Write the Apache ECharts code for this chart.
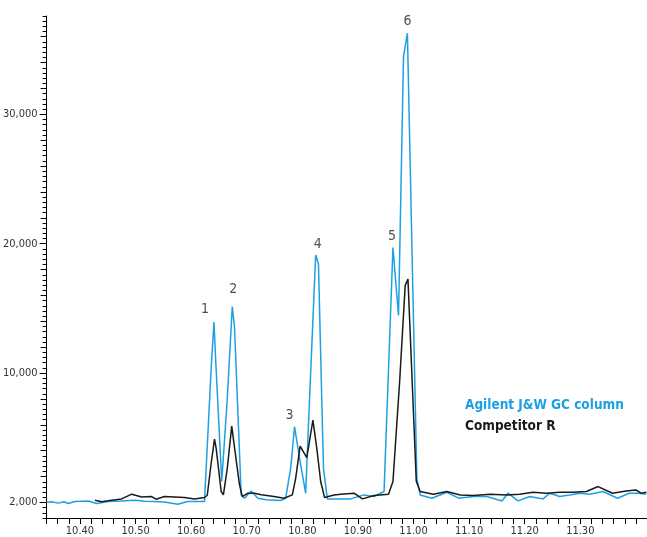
<!DOCTYPE html>
<html>
<head>
<meta charset="utf-8">
<script src="https://cdn.jsdelivr.net/npm/echarts@6/dist/echarts.min.js"></script>
<style>
html,body{margin:0;padding:0;background:#fff;}
#chart{width:647px;height:537px;}
</style>
</head>
<body>
<div id="chart"></div>
<script>
// ---- data ----
var agilentTime = [10.340,10.349,10.361,10.371,10.379,10.391,10.415,10.430,10.451,10.475,10.499,10.516,10.534,10.555,10.576,10.594,10.624,10.627,10.636,10.641,10.644,10.655,10.665,10.674,10.678,10.690,10.696,10.708,10.720,10.735,10.761,10.770,10.779,10.786,10.797,10.806,10.813,10.824,10.829,10.838,10.845,10.869,10.887,10.911,10.929,10.947,10.963,10.973,10.982,10.989,11.006,11.012,11.033,11.060,11.081,11.108,11.132,11.159,11.170,11.188,11.209,11.233,11.245,11.263,11.281,11.299,11.317,11.341,11.367,11.388,11.406,11.419];
var agilentSignal = [20,60,-50,60,-80,80,120,-80,80,120,180,100,80,20,-130,80,80,200,10350,13940,11110,1620,8030,15140,13550,585,330,890,330,215,154,330,2640,5850,2900,716,8030,19120,18430,2640,277,277,277,585,460,850,19710,14450,34470,36270,1870,585,330,790,330,460,460,120,716,120,460,277,716,460,585,716,640,850,330,716,716,640];

var competitorTime = [10.427,10.439,10.457,10.475,10.493,10.511,10.528,10.537,10.552,10.570,10.588,10.606,10.624,10.629,10.636,10.642,10.645,10.654,10.658,10.665,10.673,10.677,10.687,10.692,10.702,10.714,10.726,10.749,10.767,10.782,10.788,10.796,10.808,10.819,10.826,10.833,10.840,10.857,10.869,10.893,10.908,10.929,10.955,10.963,10.975,10.985,10.990,11.005,11.012,11.036,11.060,11.084,11.108,11.138,11.168,11.191,11.215,11.239,11.263,11.287,11.311,11.332,11.358,11.382,11.400,11.409,11.419];
var competitorSignal = [177,60,177,277,640,430,460,255,460,430,385,277,385,560,3030,4900,4180,850,585,2640,5900,4570,1355,460,716,716,600,460,330,585,1870,4360,3470,6360,4180,1620,385,585,640,716,277,540,640,1620,9320,16760,17270,1620,850,640,850,585,540,640,585,640,790,716,790,790,850,1230,716,890,970,716,790];

var peakNames = ['1','2','3','4','5','6'];
var peakTime = [10.641,10.674,10.786,10.824,10.963,10.989];
var peakSignal = [13940,15140,5850,19120,19710,36270];

var xLabelValues = [10.40,10.50,10.60,10.70,10.80,10.90,11.00,11.10,11.20,11.30];
var yLabelValues = [0,10000,20000,30000];
var yLabelTexts = ['2,000','10,000','20,000','30,000'];

var seriesNames = ['Agilent J&W GC column','Competitor R'];

// ---- styling ----
var BLUE = '#1ba1e2';
var BLACK = '#1a1a1a';
var FONT = '"DejaVu Sans Condensed","DejaVu Sans",sans-serif';
var Y_MIN = -1200, Y_MAX = 37600;

function zip(a, b){ var r=[]; for (var i=0;i<a.length;i++) r.push([a[i], b[i]]); return r; }

var medTicks = []; for (var v = 0; v <= Y_MAX; v += 2000) medTicks.push(v);

var peakOffsets = [[-9,-2],[1,-6],[-5,0],[2,0],[-1,0],[0,-1]];
var peakData = peakNames.map(function(n,i){
  return {name:n, value:[peakTime[i], peakSignal[i]], label:{offset:peakOffsets[i]}};
});

var chart = echarts.init(document.getElementById('chart'), null, {renderer:'canvas'});
var yBase = {
  type:'value', min:Y_MIN, max:Y_MAX, position:'left',
  splitLine:{show:false}
};
chart.setOption({
  animation:false,
  backgroundColor:'#fff',
  grid:{left:45, right:-1, top:16, bottom:17, containLabel:false},
  legend:{
    orient:'vertical', left:455, top:393, itemWidth:0, itemHeight:0, itemGap:7,
    icon:'rect', selectedMode:false,
    data:[
      {name:seriesNames[0], textStyle:{color:BLUE}},
      {name:seriesNames[1], textStyle:{color:BLACK}}
    ],
    textStyle:{fontFamily:FONT, fontSize:13.5, fontWeight:'bold condensed'}
  },
  xAxis:{
    type:'value', min:10.34, max:11.42, interval:0.02,
    axisLine:{show:true, onZero:false, lineStyle:{color:'#000', width:1}},
    axisTick:{show:true, length:6, lineStyle:{color:'#000'}},
    splitLine:{show:false},
    axisLabel:{
      customValues:xLabelValues, margin:8, color:'#333',
      fontFamily:FONT, fontSize:11, fontWeight:'normal condensed',
      formatter:function(v){ return v.toFixed(2); }
    }
  },
  yAxis:[
    Object.assign({}, yBase, {
      axisLine:{show:true, lineStyle:{color:'#000', width:1}},
      axisTick:{show:true, customValues:yLabelValues, length:7, lineStyle:{color:'#000'}},
      axisLabel:{
        customValues:yLabelValues, margin:9, color:'#333',
        fontFamily:FONT, fontSize:11, fontWeight:'normal condensed',
        formatter:function(v){ var i=yLabelValues.indexOf(v); return i>=0 ? yLabelTexts[i] : ''; }
      }
    }),
    Object.assign({}, yBase, {
      axisLine:{show:false},
      axisTick:{show:true, customValues:medTicks, length:6, lineStyle:{color:'#000'}},
      axisLabel:{show:false}
    }),
    Object.assign({}, yBase, {
      interval:400,
      axisLine:{show:false},
      axisTick:{show:true, length:4, lineStyle:{color:'#000'}},
      axisLabel:{show:false}
    })
  ],
  series:[
    {
      name:seriesNames[0], type:'line', data:zip(agilentTime, agilentSignal),
      showSymbol:false, symbol:'none', lineStyle:{color:BLUE, width:1.5},
      itemStyle:{color:BLUE}, z:2
    },
    {
      name:seriesNames[1], type:'line', data:zip(competitorTime, competitorSignal),
      showSymbol:false, symbol:'none', lineStyle:{color:BLACK, width:1.5},
      itemStyle:{color:BLACK}, z:3
    },
    {
      name:'peaks', type:'scatter', data:peakData, symbolSize:0,
      label:{show:true, position:'top', distance:4, formatter:'{b}',
        color:'#222', fontFamily:FONT, fontSize:14, fontWeight:'normal condensed'},
      z:4, silent:true
    }
  ]
});
</script>
</body>
</html>
